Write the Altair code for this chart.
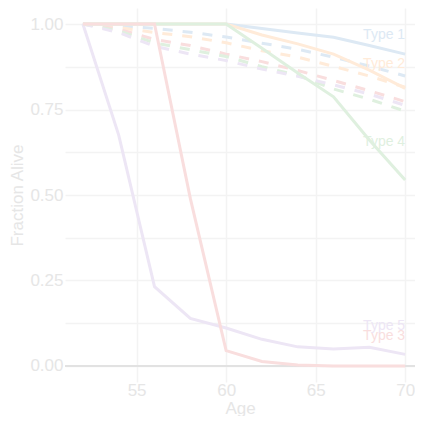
import altair as alt
import pandas as pd

ages = [52, 54, 56, 58, 60, 62, 64, 66, 68, 70]
types = ["Type 1", "Type 2", "Type 3", "Type 4", "Type 5"]
colors = ["#dde9f4", "#ffebd9", "#f9dede", "#dff0df", "#ede6f5"]
draw_order = ["Type 1", "Type 2", "Type 5", "Type 4", "Type 3"]

solid = {
    "Type 1": [1, 1, 1, 1, 1, 0.987, 0.974, 0.961, 0.937, 0.912],
    "Type 2": [1, 1, 1, 1, 1, 0.968, 0.942, 0.912, 0.865, 0.812],
    "Type 3": [1, 1, 1, 0.49, 0.045, 0.013, 0.003, 0, 0, 0],
    "Type 4": [1, 1, 1, 1, 1, 0.929, 0.857, 0.787, 0.661, 0.544],
    "Type 5": [1, 0.675, 0.232, 0.139, 0.111, 0.078, 0.056, 0.05, 0.055, 0.034],
}
dashed = {
    "Type 1": [1, 0.995, 0.987, 0.976, 0.962, 0.944, 0.926, 0.903, 0.877, 0.848],
    "Type 2": [1, 0.99, 0.975, 0.963, 0.945, 0.922, 0.903, 0.876, 0.848, 0.815],
    "Type 3": [1, 0.985, 0.955, 0.937, 0.912, 0.89, 0.864, 0.835, 0.805, 0.773],
    "Type 4": [1, 0.98, 0.945, 0.925, 0.905, 0.875, 0.85, 0.81, 0.78, 0.745],
    "Type 5": [1, 0.975, 0.935, 0.912, 0.893, 0.868, 0.847, 0.822, 0.795, 0.762],
}
label_age = 70
label_values = [0.968, 0.883, 0.089, 0.656, 0.118]

y_grid = [0, 0.125, 0.25, 0.375, 0.5, 0.625, 0.75, 0.875, 1.0]
x_ticks = [55, 60, 65, 70]

srows, drows = [], []
for t in types:
    for a, v in zip(ages, solid[t]):
        srows.append({"age": a, "frac": v, "type": t})
    for a, v in zip(ages, dashed[t]):
        drows.append({"age": a, "frac": v, "type": t})
sdf = pd.DataFrame(srows)
ddf = pd.DataFrame(drows)
lab = pd.DataFrame({"type": types, "age": [label_age] * 5, "frac": label_values})

xs = alt.Scale(domain=[51, 70.55], nice=False, zero=False)
ys = alt.Scale(domain=[-0.0468, 1.0468], nice=False, zero=False)
cs = alt.Scale(domain=types, range=colors)

FONT = "Liberation Sans"
GRAY = "#e6e6e6"

xaxis = alt.Axis(values=x_ticks, grid=True, gridColor="#f3f3f3", gridWidth=1.5,
                 domain=False, ticks=False, labelFontSize=17, labelColor=GRAY,
                 labelPadding=0, title="Age", titleFontSize=17, titleColor=GRAY,
                 titleFontWeight="normal", titleBaseline="alphabetic", titleY=31,
                 labelFont=FONT, titleFont=FONT)
yaxis = alt.Axis(values=y_grid, grid=True, gridColor="#f3f3f3", gridWidth=1.5,
                 domain=False, ticks=False, labelFontSize=17, labelColor=GRAY,
                 labelPadding=2, title="Fraction Alive", titleFontSize=17, titleColor=GRAY,
                 titleFontWeight="normal", titleBaseline="middle", titleX=-47.5,
                 labelFont=FONT, titleFont=FONT,
                 labelExpr="(datum.value * 4) % 1 == 0 ? format(datum.value, '.2f') : ''")

zero = alt.Chart(pd.DataFrame({"y": [0]})).mark_rule(color="#e2e2e2", strokeWidth=2).encode(
    y=alt.Y("y:Q", scale=ys, axis=yaxis)
)

dash_lines = alt.Chart(ddf).mark_line(strokeWidth=3, strokeDash=[10, 10]).encode(
    x=alt.X("age:Q", scale=xs, axis=xaxis),
    y=alt.Y("frac:Q", scale=ys, axis=yaxis),
    color=alt.Color("type:N", scale=cs, legend=None),
)

solid_layers = []
for t in draw_order:
    solid_layers.append(
        alt.Chart(sdf[sdf["type"] == t]).mark_line(strokeWidth=3).encode(
            x=alt.X("age:Q", scale=xs),
            y=alt.Y("frac:Q", scale=ys),
            color=alt.Color("type:N", scale=cs, legend=None),
        )
    )

labels = alt.Chart(lab).mark_text(align="right", baseline="middle", fontSize=14, font=FONT).encode(
    x=alt.X("age:Q", scale=xs),
    y=alt.Y("frac:Q", scale=ys),
    text="type:N",
    color=alt.Color("type:N", scale=cs, legend=None),
)

chart = alt.layer(zero, dash_lines, *solid_layers, labels).properties(
    width=350, height=374,
    autosize=alt.AutoSizeParams(type="none"),
    padding={"left": 57, "top": 0, "right": 0, "bottom": 34},
).configure_view(stroke=None)

chart.save("out.html", embed_options={"renderer": "svg", "actions": False})
